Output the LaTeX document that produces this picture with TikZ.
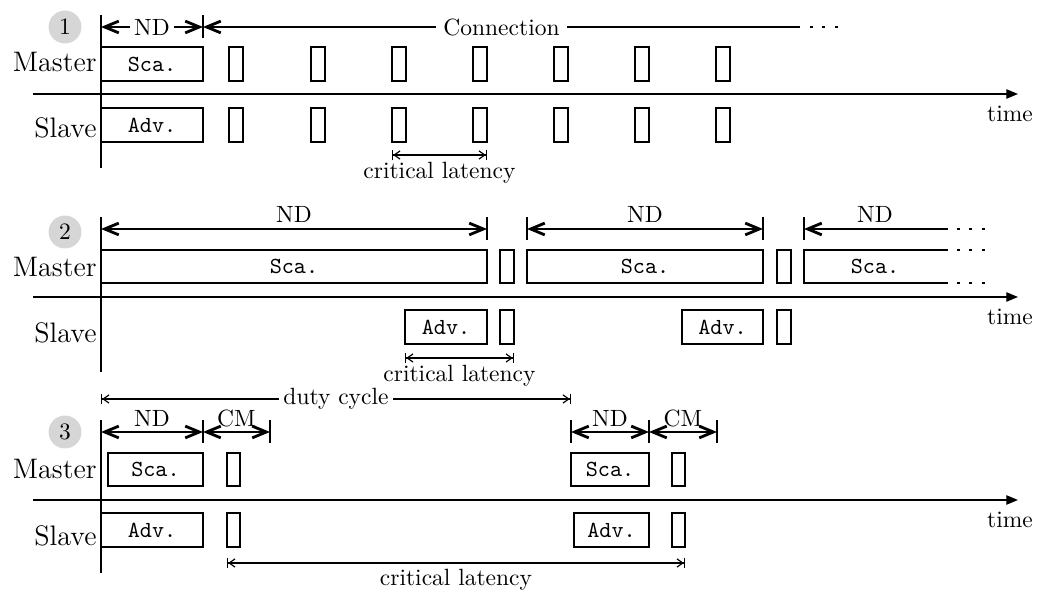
\documentclass[tikz,border=0pt]{standalone}
\usetikzlibrary{arrows.meta}
\newcommand\slotbox[6]{\node[blk,minimum width={(#4-#2)*0.4255pt},minimum height={(#5-#3)*0.4255pt}] (#1) at ({(#2+#4)/2},{(#3+#5)/2}) {#6};}
\begin{document}
\begin{tikzpicture}[x=0.4255pt,y=-0.4255pt,
  thn/.style={line width=0.6pt},
  blk/.style={draw,line width=1.2pt,inner sep=0pt,font=\ttfamily\fontsize{9.8}{11}\selectfont},
  lbl/.style={font=\large,anchor=base east,inner sep=0pt},
  num/.style={circle,fill=black!16,minimum size=14pt,inner sep=0pt},
  axisarr/.style={line width=0.6pt,-{Triangle[length=5pt,width=4pt]}},
  dimA/.style={line width=1.2pt,{Straight Barb[length=6pt,width=5pt]}-{Straight Barb[length=6pt,width=5pt]}},
  dimL/.style={line width=1.2pt,{Straight Barb[length=6pt,width=5pt]}-},
  barl/.style={line width=1.2pt},
  tdim/.style={line width=0.5pt,{Bar[width=4.5pt]Straight Barb[length=2.5pt,width=3.5pt]}-{Straight Barb[length=2.5pt,width=3.5pt]Bar[width=4.5pt]}},
  dotsl/.style={line width=1.2pt,dash pattern=on 1.2pt off 4.1pt},
  cut/.style={fill=white,inner sep=2pt},
  tlbl/.style={anchor=base,inner sep=0pt}
]
\useasboundingbox (0,0) rectangle (1038,593);

% bars at the ends of the ND / CM / Connection arrows
\foreach \n/\x/\y in {a/101/27,b/203/27,c/101/229,d/487/229,e/527/229,f/763/229,g/804/229,
                      h/101/432,i/203/432,j/270/432,k/571/432,l/649/432,m/717/432}{
  \coordinate (bt\n) at (\x,\y-11.5); \coordinate (bb\n) at (\x,\y+11.5);
  \draw[barl] (bt\n) -- (bb\n);
}

%================ Section 1
\node[num] (n1) at (65,27) {1};
\coordinate (v1t) at (101,15); \coordinate (v1b) at (101,168);
\draw[thn] (v1t) -- (v1b);
\coordinate (t1s) at (33,94); \coordinate (t1e) at (1018,94);
\draw[axisarr] (t1s) -- (t1e);
\node[tlbl] (time1) at (1010,122) {time};
\node[lbl] (mst1) at (97,72) {Master};
\node[lbl] (slv1) at (97,138) {Slave};
\coordinate (a1) at (101,27); \coordinate (b1) at (203,27);
\coordinate (c1) at (800,27); \coordinate (d1) at (810,27); \coordinate (e1) at (838,27);
\draw[dimA] (a1) -- (b1) node[midway,cut] (nd1) {ND};
\draw[dimL] (b1) -- (c1) node[midway,fill=white,inner sep=3pt] (conn) {Connection};
\draw[dotsl] (d1) -- (e1);
\slotbox{sca1}{101}{47}{203}{81}{Sca.}
\slotbox{adv1}{101}{108}{203}{142}{Adv.}
\foreach \i/\x in {1/229,2/311,3/392,4/473,5/554,6/635,7/716}{
  \slotbox{ms\i}{\x}{47}{\x+14}{81}{}
  \slotbox{ss\i}{\x}{108}{\x+14}{142}{}
}
\coordinate (cl1a) at (392,155); \coordinate (cl1b) at (487,155);
\draw[tdim] (cl1a) -- (cl1b);
\node[tlbl] (clt1) at (439.5,179) {critical latency};

%================ Section 2
\node[num] (n2) at (65,232) {2};
\coordinate (v2t) at (101,218); \coordinate (v2b) at (101,372);
\draw[thn] (v2t) -- (v2b);
\coordinate (t2s) at (33,297); \coordinate (t2e) at (1018,297);
\draw[axisarr] (t2s) -- (t2e);
\node[tlbl] (time2) at (1010,325) {time};
\node[lbl] (mst2) at (97,277) {Master};
\node[lbl] (slv2) at (97,343) {Slave};
\coordinate (a2) at (101,229); \coordinate (b2) at (487,229);
\coordinate (c2) at (527,229); \coordinate (d2) at (763,229);
\coordinate (e2) at (804,229); \coordinate (f2) at (948,229);
\draw[dimA] (a2) -- (b2);
\draw[dimA] (c2) -- (d2);
\draw[dimL] (e2) -- (f2);
\node[tlbl] (nd2a) at (294,223) {ND};
\node[tlbl] (nd2b) at (645,223) {ND};
\node[tlbl] (nd2c) at (875,223) {ND};
\slotbox{sca2a}{101}{250}{487}{283}{Sca.}
\slotbox{ms2a}{500}{250}{514}{283}{}
\slotbox{sca2b}{527}{250}{763}{283}{Sca.}
\slotbox{ms2b}{777}{250}{791}{283}{}
\coordinate (o2a) at (948,250); \coordinate (o2b) at (804,250);
\coordinate (o2c) at (804,283); \coordinate (o2d) at (948,283);
\draw[line width=1.2pt] (o2a) -- (o2b) -- (o2c) -- (o2d);
\node[font=\ttfamily\fontsize{9.8}{11}\selectfont,inner sep=0pt] (sca2c) at (875,266.5) {Sca.};
\slotbox{adv2a}{405}{310}{487}{344}{Adv.}
\slotbox{ss2a}{500}{310}{514}{344}{}
\slotbox{adv2b}{682}{310}{763}{344}{Adv.}
\slotbox{ss2b}{777}{310}{791}{344}{}
\foreach \yy in {229,250,283}{
  \coordinate (p\yy) at (957,\yy); \coordinate (q\yy) at (985,\yy);
  \draw[dotsl] (p\yy) -- (q\yy);
}
\coordinate (cl2a) at (405,358); \coordinate (cl2b) at (514,358);
\draw[tdim] (cl2a) -- (cl2b);
\node[tlbl] (clt2) at (459.5,382) {critical latency};

%================ Section 3
\coordinate (dc1) at (101,399); \coordinate (dc2) at (571,399);
\draw[tdim] (dc1) -- (dc2) node[midway,cut] (duty) {duty cycle};
\node[num] (n3) at (65,432) {3};
\coordinate (v3t) at (101,422); \coordinate (v3b) at (101,573);
\draw[thn] (v3t) -- (v3b);
\coordinate (t3s) at (33,500); \coordinate (t3e) at (1018,500);
\draw[axisarr] (t3s) -- (t3e);
\node[tlbl] (time3) at (1010,528) {time};
\node[lbl] (mst3) at (97,479) {Master};
\node[lbl] (slv3) at (97,546) {Slave};
\coordinate (a3) at (101,432); \coordinate (b3) at (203,432); \coordinate (c3) at (270,432);
\coordinate (d3) at (571,432); \coordinate (e3) at (649,432); \coordinate (f3) at (717,432);
\draw[dimA] (a3) -- (b3);
\draw[dimA] (b3) -- (c3);
\draw[dimA] (d3) -- (e3);
\draw[dimA] (e3) -- (f3);
\node[tlbl] (nd3a) at (152,427) {ND};
\node[tlbl] (cm3a) at (236.5,427) {CM};
\node[tlbl] (nd3b) at (610,427) {ND};
\node[tlbl] (cm3b) at (683,427) {CM};
\slotbox{sca3a}{108}{453}{203}{486}{Sca.}
\slotbox{ms3a}{227}{453}{240}{486}{}
\slotbox{sca3b}{571}{453}{649}{486}{Sca.}
\slotbox{ms3b}{672}{453}{685}{486}{}
\slotbox{adv3a}{101}{513}{203}{547}{Adv.}
\slotbox{ss3a}{227}{513}{240}{547}{}
\slotbox{adv3b}{574}{513}{649}{547}{Adv.}
\slotbox{ss3b}{672}{513}{685}{547}{}
\coordinate (cl3a) at (227,563); \coordinate (cl3b) at (685,563);
\draw[tdim] (cl3a) -- (cl3b);
\node[tlbl] (clt3) at (456,586) {critical latency};
\end{tikzpicture}
\end{document}
